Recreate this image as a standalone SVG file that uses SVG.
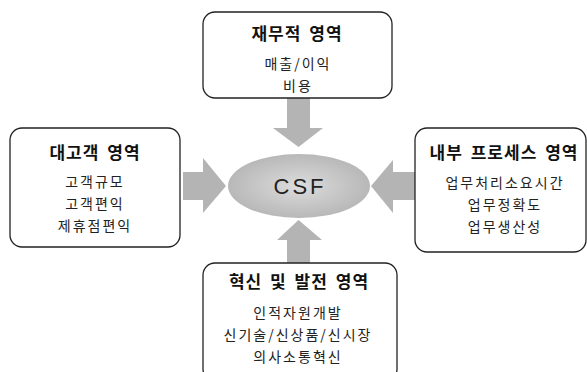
<svg xmlns="http://www.w3.org/2000/svg" width="587" height="372" viewBox="0 0 587 372">
<style>
.box{fill:#fff;stroke:#222;stroke-width:1.3}
.t{font-family:"Noto Sans CJK KR","Noto Sans",sans-serif;font-weight:bold;font-size:17px;fill:#111;text-anchor:middle;letter-spacing:1px;word-spacing:3px}
.b{font-family:"Noto Sans CJK KR","Noto Sans",sans-serif;font-size:14px;fill:#222;text-anchor:middle;letter-spacing:2px}
.arr{fill:#b4b4b4}
</style>
<defs>
<radialGradient id="g" cx="0.5" cy="0.5" r="0.5">
<stop offset="0" stop-color="#dcdcdc"/>
<stop offset="1" stop-color="#b8b8b8"/>
</radialGradient>
</defs>
<g id="connectors">
<polygon class="arr" points="287,98 310,98 310,128 323,128 298.5,147 273,128 287,128"/>
<polygon class="arr" points="183,172 203,172 203,158 226,186 203,213 203,200 183,200"/>
<polygon class="arr" points="415,172 393,172 393,160 371,186 393,213 393,200 415,200"/>
<polygon class="arr" points="287,263 310,263 310,240 322,240 298.5,220 277,240 287,240"/>
</g>
<g id="csf">
<ellipse cx="299" cy="186" rx="71" ry="32" fill="url(#g)"/>
<text x="300" y="194" font-family="Liberation Sans,sans-serif" font-size="22" fill="#222" text-anchor="middle" letter-spacing="3">CSF</text>
</g>
<g id="finance">
<rect class="box" x="203" y="12" width="189" height="86" rx="12"/>
<text class="t" x="297" y="40">재무적 영역</text>
<text class="b" x="298" y="69">매출/이익</text>
<text class="b" x="298" y="91">비용</text>
</g>
<g id="customer">
<rect class="box" x="10" y="128" width="170" height="119" rx="12"/>
<text class="t" x="95" y="159">대고객 영역</text>
<text class="b" x="95" y="187">고객규모</text>
<text class="b" x="95" y="209">고객편익</text>
<text class="b" x="95" y="231">제휴점편익</text>
</g>
<g id="process">
<rect class="box" x="415" y="128" width="171" height="124" rx="12"/>
<text class="t" x="504" y="159">내부 프로세스 영역</text>
<text class="b" x="505" y="188">업무처리소요시간</text>
<text class="b" x="505" y="210">업무정확도</text>
<text class="b" x="505" y="232">업무생산성</text>
</g>
<g id="innovation">
<rect class="box" x="203" y="263" width="194" height="118" rx="12"/>
<text class="t" x="299" y="288">혁신 및 발전 영역</text>
<text class="b" x="298" y="318">인적자원개발</text>
<text class="b" x="298" y="340">신기술/신상품/신시장</text>
<text class="b" x="298" y="362">의사소통혁신</text>
</g>
</svg>
